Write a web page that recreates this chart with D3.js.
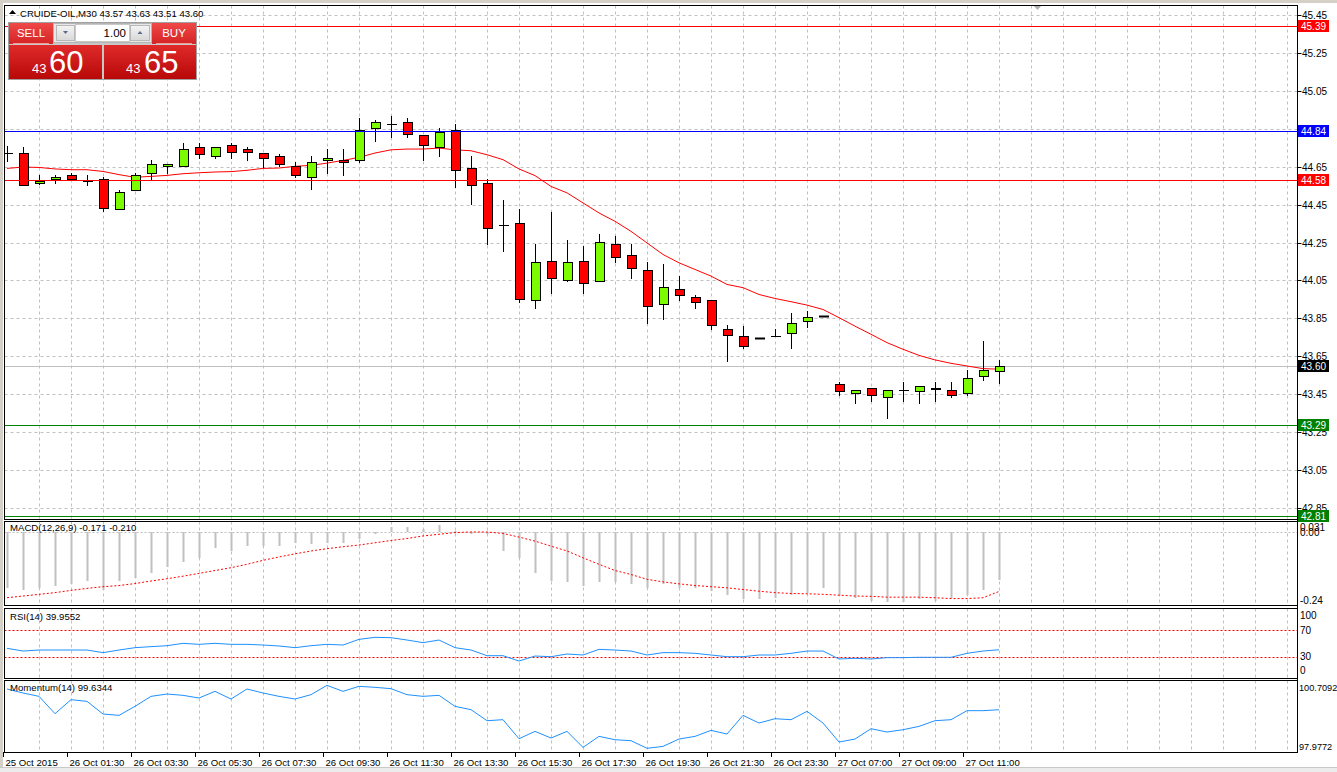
<!DOCTYPE html>
<html><head><meta charset="utf-8">
<script src="https://cdn.jsdelivr.net/npm/d3@7"></script>
<style>
html,body{margin:0;padding:0;background:#fff;overflow:hidden;}
svg{display:block;font-family:"Liberation Sans",Arial,sans-serif;}
</style></head><body>
<svg id="c" width="1337" height="772"></svg>
<script>
// ---------------- DATA ----------------
const symbolTitle = "CRUIDE-OIL,M30";
const headerOHLC = ["43.57", "43.63", "43.51", "43.60"];
const bidParts = ["43", "60"];
const askParts = ["43", "65"];
const lotSize = "1.00";

const openP  = [44.722,44.722,44.564,44.585,44.606,44.576,44.585,44.427,44.527,44.618,44.654,44.654,44.754,44.706,44.766,44.743,44.722,44.706,44.654,44.594,44.685,44.685,44.685,44.854,44.875,44.885,44.817,44.754,44.841,44.643,44.564,44.343,44.354,43.948,44.155,44.052,44.155,44.048,44.243,44.185,44.106,43.927,44.006,43.964,43.948,43.796,43.759,43.748,43.759,43.775,43.838,43.864,43.506,43.459,43.485,43.438,43.474,43.469,43.475,43.474,43.457,43.548,43.57];
const highP  = [44.760,44.754,44.606,44.606,44.618,44.606,44.594,44.529,44.618,44.687,44.664,44.776,44.776,44.754,44.776,44.754,44.722,44.718,44.676,44.708,44.743,44.743,44.908,44.897,44.918,44.908,44.817,44.853,44.875,44.708,44.586,44.476,44.427,44.240,44.409,44.266,44.230,44.297,44.287,44.243,44.148,44.139,44.076,43.975,43.948,43.817,43.808,43.748,43.796,43.876,43.887,43.864,43.516,43.474,43.485,43.474,43.516,43.495,43.516,43.516,43.576,43.729,43.63];
const lowP   = [44.680,44.554,44.560,44.564,44.585,44.554,44.418,44.427,44.527,44.583,44.616,44.654,44.694,44.694,44.694,44.683,44.650,44.652,44.594,44.531,44.617,44.606,44.675,44.783,44.804,44.806,44.683,44.704,44.542,44.452,44.240,44.204,43.935,43.904,43.983,44.045,43.983,44.048,44.146,44.062,43.825,43.845,43.946,43.905,43.792,43.625,43.694,43.748,43.759,43.694,43.806,43.864,43.444,43.404,43.415,43.325,43.415,43.404,43.415,43.438,43.447,43.526,43.51];
const closeP = [44.722,44.554,44.576,44.596,44.585,44.576,44.433,44.517,44.606,44.664,44.664,44.743,44.717,44.754,44.730,44.730,44.696,44.664,44.606,44.674,44.696,44.675,44.841,44.885,44.875,44.824,44.764,44.833,44.632,44.553,44.327,44.343,43.954,44.148,44.063,44.148,44.038,44.254,44.175,44.117,43.917,44.017,43.975,43.937,43.817,43.763,43.706,43.748,43.759,43.827,43.859,43.864,43.468,43.474,43.447,43.474,43.474,43.495,43.485,43.447,43.537,43.576,43.60];
const maLine = [44.641,44.648,44.646,44.638,44.634,44.634,44.625,44.608,44.594,44.599,44.604,44.613,44.618,44.622,44.624,44.631,44.641,44.643,44.652,44.657,44.669,44.683,44.699,44.722,44.739,44.743,44.743,44.748,44.739,44.734,44.713,44.687,44.638,44.603,44.546,44.512,44.459,44.406,44.362,44.309,44.248,44.187,44.143,44.108,44.073,44.029,44.012,43.976,43.955,43.938,43.920,43.897,43.854,43.809,43.766,43.722,43.687,43.655,43.631,43.613,43.599,43.585,43.582];

const macdMain = [-0.197,-0.203,-0.199,-0.189,-0.185,-0.173,-0.203,-0.173,-0.161,-0.144,-0.124,-0.106,-0.093,-0.055,-0.067,-0.050,-0.050,-0.050,-0.038,-0.044,-0.038,-0.038,-0.026,-0.006,0.018,0.018,0.009,0.025,0.003,-0.008,-0.006,-0.067,-0.093,-0.144,-0.173,-0.177,-0.189,-0.177,-0.177,-0.185,-0.197,-0.185,-0.197,-0.197,-0.209,-0.223,-0.236,-0.238,-0.232,-0.223,-0.214,-0.199,-0.226,-0.232,-0.244,-0.246,-0.246,-0.238,-0.244,-0.232,-0.223,-0.203,-0.171];
const macdSignal = [-0.232,-0.226,-0.220,-0.214,-0.206,-0.199,-0.193,-0.189,-0.182,-0.173,-0.165,-0.156,-0.146,-0.136,-0.126,-0.114,-0.100,-0.088,-0.077,-0.067,-0.059,-0.052,-0.046,-0.038,-0.030,-0.023,-0.014,-0.008,-0.002,0.000,0.000,-0.005,-0.018,-0.032,-0.050,-0.067,-0.091,-0.114,-0.136,-0.150,-0.167,-0.176,-0.183,-0.189,-0.193,-0.197,-0.203,-0.209,-0.214,-0.217,-0.218,-0.220,-0.223,-0.226,-0.227,-0.230,-0.230,-0.230,-0.232,-0.235,-0.235,-0.232,-0.210];
const rsiVals = [42.1,38.1,39.6,39.6,39.6,39.6,35.7,39.6,43.1,44.6,46.0,49.5,48.0,49.5,48.0,48.0,47.0,45.6,43.1,46.0,48.0,47.0,55.4,58.4,57.9,54.4,50.5,54.4,43.1,39.6,31.2,31.2,23.3,30.7,29.7,33.7,32.2,40.6,39.6,38.1,32.2,35.7,35.7,34.7,32.2,29.7,29.7,32.2,32.2,34.7,38.1,38.1,26.3,27.3,26.3,28.3,28.3,28.8,28.8,28.8,34.7,38.1,39.9552];
const momVals = [100.524,100.352,100.209,99.464,100.066,99.994,99.450,99.392,99.779,100.209,100.309,100.252,100.137,100.424,100.094,100.524,100.352,100.209,100.094,100.281,100.682,100.424,100.639,100.596,100.539,100.281,100.209,100.252,99.779,99.636,99.163,99.206,98.389,98.704,98.418,98.704,98.017,98.490,98.346,98.303,97.977,98.059,98.375,98.490,98.747,98.590,99.392,99.063,99.249,99.206,99.564,99.063,98.246,98.375,98.819,98.676,98.776,98.919,99.163,99.206,99.593,99.593,99.6344];

const timeLabels = ["25 Oct 2015","26 Oct 01:30","26 Oct 03:30","26 Oct 05:30","26 Oct 07:30","26 Oct 09:30","26 Oct 11:30","26 Oct 13:30","26 Oct 15:30","26 Oct 17:30","26 Oct 19:30","26 Oct 21:30","26 Oct 23:30","27 Oct 07:00","27 Oct 09:00","27 Oct 11:00"];
const timeLabelBar = [0,4,8,12,16,20,24,28,32,36,40,44,48,52,56,60];
const priceTicks = [45.45,45.25,45.05,44.85,44.65,44.45,44.25,44.05,43.85,43.65,43.45,43.25,43.05,42.85];
const levelPrices = [45.39, 44.84, 44.58, 43.29, 42.81];
const levelKinds  = ["red","blue","red","green","green"];
const currentPrice = 43.60;
const macdTickLabels = ["0.031","0.00","-0.24"];
const macdTickVals = [0.031, 0, -0.24];
const rsiLevels = [70, 30];
const rsiTickLabels = ["100","70","30","0"];
const momRange = [97.9772, 100.7092];
const indicatorTitles = ["MACD(12,26,9) -0.171 -0.210", "RSI(14) 39.9552", "Momentum(14) 99.6344"];

// ---------------- LAYOUT ----------------
const svg = d3.select("#c");
const LEFT = 4.5, RIGHT = 1297.5;
const P = {
  main: {top: 5.5, bottom: 519.5},
  macd: {top: 521.5, bottom: 605.5},
  rsi:  {top: 608.5, bottom: 678.5},
  mom:  {top: 680.5, bottom: 752.5}
};
const GRID = "#c0c0c0";
const COLORS = {red: "rgb(255,0,0)", blue: "rgb(0,0,255)", green: "rgb(0,128,0)"};
const nBars = closeP.length;
const x = d3.scaleLinear().domain([0, 62]).range([7, 999]);
const y = d3.scaleLinear().domain([42.85, 45.45]).range([508, 15]);
const yMacd = d3.scaleLinear().domain([-0.24, 0]).range([600, 532]);
const yRsi = d3.scaleLinear().domain([0, 100]).range([676.75, 609.25]);
const yMom = d3.scaleLinear().domain(momRange).range([748.3, 684.7]);
const px = v => Math.round(v) + 0.5;

const defs = svg.append("defs");
Object.entries(P).forEach(([k, p]) => {
  defs.append("clipPath").attr("id", "clip-" + k).append("rect")
    .attr("x", LEFT + 0.5).attr("y", p.top + 0.5)
    .attr("width", RIGHT - LEFT - 1).attr("height", p.bottom - p.top - 1);
});
const g1 = defs.append("linearGradient").attr("id", "gBig").attr("x1", 0).attr("x2", 0).attr("y1", 0).attr("y2", 1);
g1.append("stop").attr("offset", "0%").attr("stop-color", "#e02a2a");
g1.append("stop").attr("offset", "100%").attr("stop-color", "#b80808");
const g2 = defs.append("linearGradient").attr("id", "gBtn").attr("x1", 0).attr("x2", 0).attr("y1", 0).attr("y2", 1);
g2.append("stop").attr("offset", "0%").attr("stop-color", "#f04848");
g2.append("stop").attr("offset", "100%").attr("stop-color", "#d42424");
const g3 = defs.append("linearGradient").attr("id", "gGray").attr("x1", 0).attr("x2", 0).attr("y1", 0).attr("y2", 1);
g3.append("stop").attr("offset", "0%").attr("stop-color", "#f4f4f4");
g3.append("stop").attr("offset", "100%").attr("stop-color", "#d8d8d8");

// window frame
svg.append("rect").attr("x", 0).attr("y", 0).attr("width", 3).attr("height", 772).attr("fill", "#d4d0c8");
svg.append("rect").attr("x", 0).attr("y", 0).attr("width", 1337).attr("height", 3).attr("fill", "#d4d0c8");
svg.append("rect").attr("x", 0).attr("y", 767).attr("width", 1337).attr("height", 5).attr("fill", "#ececec");
svg.append("line").attr("x1", 0).attr("x2", 1337).attr("y1", 767.5).attr("y2", 767.5).attr("stroke", "#c8c8c8");

// ---------------- GRIDS ----------------
const gridIdx = d3.range(2, 81, 2);
Object.entries(P).forEach(([k, p]) => {
  svg.append("g").attr("clip-path", `url(#clip-${k})`).selectAll("line")
    .data(gridIdx).join("line")
    .attr("x1", d => px(x(d))).attr("x2", d => px(x(d)))
    .attr("y1", p.top).attr("y2", p.bottom)
    .attr("stroke", GRID).attr("stroke-dasharray", "3,3");
});
svg.append("g").attr("clip-path", "url(#clip-main)").selectAll("line")
  .data(priceTicks).join("line")
  .attr("x1", LEFT).attr("x2", RIGHT)
  .attr("y1", d => px(y(d))).attr("y2", d => px(y(d)))
  .attr("stroke", GRID).attr("stroke-dasharray", "3,3");

// ---------------- MAIN PANEL ----------------
const main = svg.append("g").attr("clip-path", "url(#clip-main)");
main.append("line").attr("x1", LEFT).attr("x2", RIGHT)
  .attr("y1", px(y(currentPrice))).attr("y2", px(y(currentPrice))).attr("stroke", "#c0c0c0");

// moving average
main.append("path").datum(maLine)
  .attr("d", d3.line().x((d, i) => x(i)).y(d => y(d)))
  .attr("fill", "none").attr("stroke", COLORS.red).attr("stroke-width", 1);

// candles
const cg = main.append("g");
d3.range(nBars).forEach(i => {
  const cx = Math.round(x(i));
  const o = openP[i], c = closeP[i], h = highP[i], l = lowP[i];
  const yt = Math.round(y(Math.max(o, c))), yb = Math.round(y(Math.min(o, c)));
  cg.append("line").attr("x1", cx + 0.5).attr("x2", cx + 0.5)
    .attr("y1", Math.round(y(h))).attr("y2", Math.round(y(l)) + 1)
    .attr("stroke", "#000");
  if (yb - yt < 1) {
    cg.append("line").attr("x1", cx - 4).attr("x2", cx + 6)
      .attr("y1", yt + 0.5).attr("y2", yt + 0.5).attr("stroke", "#000")
      .attr("stroke-width", (h === l) ? 2 : 1);
  } else {
    cg.append("rect").attr("x", cx - 3.5).attr("y", yt + 0.5)
      .attr("width", 9).attr("height", yb - yt)
      .attr("fill", c >= o ? "#7cfc00" : "#ff0000").attr("stroke", "#000");
  }
});

// horizontal level lines (drawn as filled 1px rects)
const lvlG = svg.append("g");
levelPrices.forEach((v, i) => {
  lvlG.append("rect").attr("x", 5).attr("width", 1292)
    .attr("y", Math.round(y(v))).attr("height", 1)
    .attr("fill", COLORS[levelKinds[i]]);
});

// header
svg.append("path").attr("d", "M9,14 L12.5,10 L16,14 Z").attr("fill", "#000");
svg.append("text").attr("x", 20).attr("y", 17).attr("font-size", 9.6).attr("fill", "#000")
  .text(symbolTitle + "  " + headerOHLC.join(" "));

// chart shift marker
svg.append("path").attr("d", "M1033,5 L1042,5 L1037.5,10 Z").attr("fill", "#b0b0b0");

// one-click trading panel
const tp = svg.append("g");
tp.append("rect").attr("x", 8.5).attr("y", 22.5).attr("width", 188).attr("height", 57).attr("fill", "#c8c8c8").attr("stroke", "#a0a0a0");
tp.append("rect").attr("x", 9).attr("y", 23).attr("width", 44).attr("height", 21).attr("fill", "url(#gBtn)");
tp.append("rect").attr("x", 152).attr("y", 23).attr("width", 44).attr("height", 21).attr("fill", "url(#gBtn)");
tp.append("line").attr("x1", 13).attr("x2", 49).attr("y1", 43.5).attr("y2", 43.5).attr("stroke", "#f59a9a");
tp.append("line").attr("x1", 156).attr("x2", 192).attr("y1", 43.5).attr("y2", 43.5).attr("stroke", "#f59a9a");
tp.append("text").attr("x", 31).attr("y", 37).attr("text-anchor", "middle").attr("font-size", 11.5).attr("fill", "#fff").text("SELL");
tp.append("text").attr("x", 174).attr("y", 37).attr("text-anchor", "middle").attr("font-size", 11.5).attr("fill", "#fff").text("BUY");
tp.append("rect").attr("x", 53.5).attr("y", 23.5).attr("width", 98).attr("height", 19).attr("fill", "#e8e8e8").attr("stroke", "#b4b4b4");
tp.append("rect").attr("x", 56.5).attr("y", 25.5).attr("width", 18).attr("height", 15).attr("fill", "url(#gGray)").attr("stroke", "#b8b8b8");
tp.append("rect").attr("x", 130.5).attr("y", 25.5).attr("width", 19).attr("height", 15).attr("fill", "url(#gGray)").attr("stroke", "#b8b8b8");
tp.append("rect").attr("x", 75.5).attr("y", 24.5).attr("width", 54).attr("height", 17).attr("fill", "#fff").attr("stroke", "#c8c8c8");
tp.append("path").attr("d", "M63,31 L68,31 L65.5,34 Z").attr("fill", "#5a6a8a");
tp.append("path").attr("d", "M137.5,34 L142.5,34 L140,31 Z").attr("fill", "#5a6a8a");
tp.append("text").attr("x", 126).attr("y", 37).attr("text-anchor", "end").attr("font-size", 11.5).attr("fill", "#000").text(lotSize);
tp.append("rect").attr("x", 9).attr("y", 45).attr("width", 93).attr("height", 34).attr("fill", "url(#gBig)");
tp.append("rect").attr("x", 104).attr("y", 45).attr("width", 92).attr("height", 34).attr("fill", "url(#gBig)");
tp.append("text").attr("x", 32).attr("y", 73).attr("font-size", 13).attr("fill", "#fff").text(bidParts[0]);
tp.append("text").attr("x", 49).attr("y", 73).attr("font-size", 31).attr("fill", "#fff").text(bidParts[1]);
tp.append("text").attr("x", 126).attr("y", 73).attr("font-size", 13).attr("fill", "#fff").text(askParts[0]);
tp.append("text").attr("x", 144).attr("y", 73).attr("font-size", 31).attr("fill", "#fff").text(askParts[1]);

// ---------------- MACD ----------------
const mg = svg.append("g").attr("clip-path", "url(#clip-macd)");
mg.append("line").attr("x1", LEFT).attr("x2", RIGHT).attr("y1", px(yMacd(0))).attr("y2", px(yMacd(0)))
  .attr("stroke", GRID).attr("stroke-dasharray", "2,2");
mg.selectAll("rect").data(macdMain).join("rect")
  .attr("x", (d, i) => Math.round(x(i)) - 0.5).attr("width", 2)
  .attr("y", d => Math.round(Math.min(yMacd(d), yMacd(0))))
  .attr("height", d => Math.max(1, Math.round(Math.abs(yMacd(d) - yMacd(0)))))
  .attr("fill", "#c0c0c0");
mg.append("path").datum(macdSignal)
  .attr("d", d3.line().x((d, i) => x(i)).y(d => yMacd(d)))
  .attr("fill", "none").attr("stroke", COLORS.red).attr("stroke-dasharray", "2,2");

// ---------------- RSI ----------------
const rg = svg.append("g").attr("clip-path", "url(#clip-rsi)");
rg.selectAll("line.lv").data(rsiLevels).join("line").attr("class", "lv")
  .attr("x1", LEFT).attr("x2", RIGHT).attr("y1", d => px(yRsi(d))).attr("y2", d => px(yRsi(d)))
  .attr("stroke", COLORS.red).attr("stroke-dasharray", "2,2");
rg.append("path").datum(rsiVals)
  .attr("d", d3.line().x((d, i) => x(i)).y(d => yRsi(d)))
  .attr("fill", "none").attr("stroke", "#1e90ff");

// ---------------- MOMENTUM ----------------
const og = svg.append("g").attr("clip-path", "url(#clip-mom)");
og.append("path").datum(momVals)
  .attr("d", d3.line().x((d, i) => x(i)).y(d => yMom(d)))
  .attr("fill", "none").attr("stroke", "#1e90ff");

// indicator titles
const titleY = [531, 620, 691];
indicatorTitles.forEach((t, i) => {
  svg.append("text").attr("x", 10).attr("y", titleY[i]).attr("font-size", 9.6).attr("fill", "#000").text(t);
});

// ---------------- BORDERS ----------------
Object.values(P).forEach(p => {
  svg.append("rect").attr("x", LEFT).attr("y", p.top).attr("width", RIGHT - LEFT).attr("height", p.bottom - p.top)
    .attr("fill", "none").attr("stroke", "#000");
});

// ---------------- AXES ----------------
const axisR = svg.append("g").attr("font-size", 10).attr("fill", "#000");
priceTicks.forEach(v => {
  const yy = px(y(v));
  axisR.append("line").attr("x1", RIGHT).attr("x2", RIGHT + 4).attr("y1", yy).attr("y2", yy).attr("stroke", "#000");
  axisR.append("text").attr("x", 1302).attr("y", yy + 3.5).text(d3.format(".2f")(v));
});
levelPrices.forEach((v, i) => {
  const yy = Math.round(y(v));
  axisR.append("rect").attr("x", 1298).attr("y", yy - 6).attr("width", 31).attr("height", 12).attr("fill", COLORS[levelKinds[i]]);
  axisR.append("text").attr("x", 1301).attr("y", yy + 4).attr("fill", "#fff").text(d3.format(".2f")(v));
});
{
  const yy = Math.round(y(currentPrice));
  axisR.append("rect").attr("x", 1298).attr("y", yy - 6).attr("width", 31).attr("height", 12).attr("fill", "#000");
  axisR.append("text").attr("x", 1301).attr("y", yy + 4).attr("fill", "#fff").text(d3.format(".2f")(currentPrice));
}
macdTickVals.forEach((v, i) => {
  const yy = v === 0.031 ? 527 : yMacd(v);
  axisR.append("text").attr("x", 1300).attr("y", yy + 3.5).text(macdTickLabels[i]);
});
const rsiLabelY = [615, 630, 656.5, 670.5];
rsiTickLabels.forEach((t, i) => {
  axisR.append("text").attr("x", 1300).attr("y", rsiLabelY[i] + 3.5).text(t);
});
axisR.append("text").attr("x", 1299).attr("y", 691).attr("font-size", 9.2).text(d3.format(".4f")(momRange[1]));
axisR.append("text").attr("x", 1299).attr("y", 750).attr("font-size", 9.2).text(d3.format(".4f")(momRange[0]));

// time axis
const axisB = svg.append("g").attr("font-size", 9.6).attr("fill", "#000");
timeLabelBar.forEach((b, i) => {
  const xx = px(x(b)) - 4;
  axisB.append("line").attr("x1", xx).attr("x2", xx).attr("y1", 752).attr("y2", 757).attr("stroke", "#000");
  axisB.append("text").attr("x", xx + 2).attr("y", 766).text(timeLabels[i]);
});
svg.append("line").attr("x1", RIGHT).attr("x2", RIGHT).attr("y1", 5).attr("y2", 753).attr("stroke", "#000");
</script>
</body></html>
